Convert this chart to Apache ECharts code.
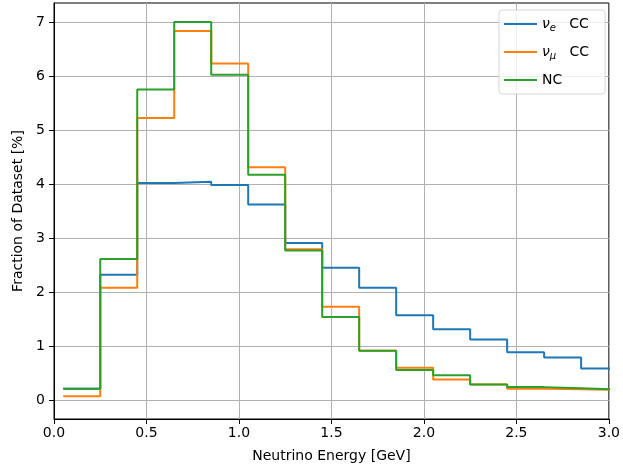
<!DOCTYPE html>
<html>
<head>
<meta charset="utf-8">
<script src="https://cdn.jsdelivr.net/npm/echarts@6/dist/echarts.min.js"></script>
<style>html,body{margin:0;padding:0;background:#fff;}#c{width:623px;height:468px;}</style>
</head>
<body>
<div id="c"></div>
<script>
const edges = [0.05, 0.25, 0.45, 0.65, 0.85, 1.05, 1.25, 1.45, 1.65, 1.85, 2.05, 2.25, 2.45, 2.65, 2.85, 3.05];
const nueCC = [0.21, 2.32, 4.02, 4.04, 3.98, 3.62, 2.91, 2.45, 2.08, 1.57, 1.31, 1.12, 0.885, 0.79, 0.585];
const numuCC = [0.07, 2.08, 5.22, 6.83, 6.23, 4.31, 2.79, 1.73, 0.915, 0.60, 0.38, 0.29, 0.21, 0.20, 0.19];
const nc = [0.21, 2.61, 5.75, 7.00, 6.02, 4.17, 2.77, 1.54, 0.915, 0.555, 0.46, 0.29, 0.24, 0.22, 0.196];
const yTicks = [0, 1, 2, 3, 4, 5, 6, 7];
const seriesNames = ['nue', 'numu', 'nc'];
const colors = ['#1f77b4', '#ff7f0e', '#2ca02c'];

function stepData(vals) {
  const d = vals.map((v, i) => [edges[i], v]);
  d.push([edges[edges.length - 1], vals[vals.length - 1]]);
  return d;
}
const font = 'DejaVu Sans';
const chart = echarts.init(document.getElementById('c'), null, {renderer: 'canvas'});
const allVals = [nueCC, numuCC, nc];
chart.setOption({
  animation: false,
  color: colors,
  grid: {left: 54, right: 9, top: 3, bottom: 46, show: true, borderColor: '#000', borderWidth: 1, backgroundColor: 'transparent'},
  legend: {
    left: 499, top: 10,
    orient: 'vertical',
    data: seriesNames,
    icon: 'rect',
    itemWidth: 33, itemHeight: 2,
    itemGap: 12,
    padding: [7, 16, 7, 5],
    borderColor: '#d6d6d6', borderWidth: 1, borderRadius: 3,
    backgroundColor: 'rgba(255,255,255,0.8)',
    textStyle: {
      fontFamily: font, fontSize: 14, color: '#000',
      rich: {
        nu: {fontFamily: font, fontSize: 14, fontStyle: 'italic', color: '#000'},
        sub: {fontFamily: font, fontSize: 10, fontStyle: 'italic', color: '#000', padding: [8, 0, 0, 0]},
        t: {fontFamily: font, fontSize: 14, color: '#000'}
      }
    },
    formatter: function (n) {
      if (n === 'nue') return '{nu|ν}{sub|e}{t|   CC}';
      if (n === 'numu') return '{nu|ν}{sub|μ}{t|   CC}';
      return '{t|NC}';
    }
  },
  xAxis: {
    type: 'value', min: 0, max: 3, interval: 0.5,
    name: 'Neutrino Energy [GeV]', nameLocation: 'middle', nameGap: 30,
    nameTextStyle: {fontFamily: font, fontSize: 14, color: '#000'},
    axisLine: {show: true, onZero: false, lineStyle: {color: '#000', width: 1}},
    axisTick: {show: true, inside: false, length: 5, lineStyle: {color: '#000'}},
    axisLabel: {fontFamily: font, fontSize: 14, color: '#000', margin: 7, formatter: v => v.toFixed(1)},
    splitLine: {show: true, lineStyle: {color: '#b0b0b0', width: 1}}
  },
  yAxis: {
    type: 'value', min: -0.35, max: 7.35,
    name: 'Fraction of Dataset [%]', nameLocation: 'middle', nameGap: 29,
    nameTextStyle: {fontFamily: font, fontSize: 14, color: '#000'},
    axisLine: {show: true, onZero: false, lineStyle: {color: '#000', width: 1}},
    axisTick: {show: true, inside: false, length: 5, lineStyle: {color: '#000'}, customValues: yTicks},
    axisLabel: {fontFamily: font, fontSize: 14, color: '#000', margin: 9, customValues: yTicks},
    splitLine: {show: true, lineStyle: {color: '#b0b0b0', width: 1}}
  },
  series: seriesNames.map((n, k) => ({
    name: n, type: 'line', step: 'end', showSymbol: false, symbol: 'none',
    clip: true,
    lineStyle: {width: 2, color: colors[k]},
    itemStyle: {color: colors[k]},
    data: stepData(allVals[k])
  }))
});
</script>
</body>
</html>
